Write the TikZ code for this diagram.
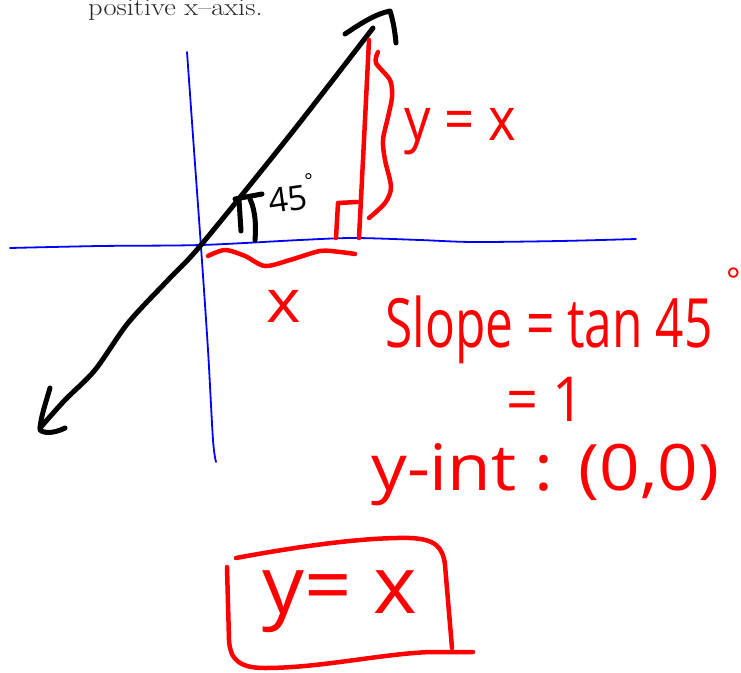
\documentclass[tikz,border=0pt]{standalone}
\usepackage{fontspec}
\newfontfamily\hand{Open Sans}
\begin{document}
\begin{tikzpicture}[x=1pt,y=-1pt,
  blueax/.style={draw=blue, line width=1.8pt, line cap=round},
  blk/.style={draw=black, line width=5pt, line cap=round, line join=round},
  redln/.style={draw=red, line width=4.5pt, line cap=round, line join=round},
  htext/.style={inner sep=0pt, anchor=base west},
  redtext/.style={htext, text=red}]
\useasboundingbox (0,0) rectangle (741,672);
% header text
\node[htext, text=black!85] (head) at (88,15) {\scalebox{1.14}[1]{\fontsize{25}{27}\selectfont positive x--axis.}};
% axes
\draw[blueax] plot[smooth] coordinates {(187,52) (194,150) (201,247) (208,350) (213,440) (216,462)};
\draw[blueax] plot[smooth] coordinates {(10,248) (100,246) (201,245) (300,240) (354,238) (420,240) (473,242) (560,241) (636,239)};
% black line y=x
\draw[blk] plot[smooth] coordinates {(40,428) (65,400) (95,370) (128,323) (168,280) (201,245) (290,135) (373,28)};
\draw[blk] (345,34) .. controls (360,24) and (375,14) .. (390,11) .. controls (393,20) and (395,32) .. (396,43);
\draw[blk] (50,388) .. controls (45,405) and (40,420) .. (40,430) .. controls (45,434) and (55,433) .. (65,428);
% angle mark
\draw[blk] (235,199) -- (262,194);
\draw[blk] (239,200) -- (241,231);
\draw[blk] (250,199) .. controls (256,212) and (256,228) .. (255,240);
\node[htext, rotate=8] (ang) at (270,214) {\hand\fontsize{34}{34}\selectfont 45\raisebox{20pt}{\fontsize{20}{20}\selectfont °}};
% red vertical and right angle
\draw[redln] plot[smooth] coordinates {(369,40) (364,140) (359,238)};
\draw[redln] (336,238) -- (338,203) -- (357,202);
% brace
\draw[redln] plot[smooth] coordinates {(378,52) (376,63) (390,80) (392,97) (388,117) (383,140) (385,160) (391,187) (385,203) (369,218)};
\node[redtext] (yx1) at (404,140) {\scalebox{0.88}[1]{\fontsize{60}{60}\selectfont\hand y = x}};
% wave under x
\draw[redln] plot[smooth] coordinates {(208,256) (225,250) (245,256) (265,266) (290,260) (320,251) (340,252) (355,254)};
\node[redtext] (xl) at (266,322) {\scalebox{1.1}[1]{\fontsize{60}{60}\selectfont\hand x}};
% slope
\node[redtext] (slope) at (385,347) {\scalebox{0.73}[1]{\fontsize{68}{68}\selectfont\hand Slope = tan 45}};
\node[redtext] (deg) at (726,292) {\fontsize{34}{34}\selectfont\hand °};
\node[redtext] (one) at (506,421) {\scalebox{0.9}[1]{\fontsize{62}{62}\selectfont\hand = 1}};
\node[redtext] (yint) at (371,490) {\scalebox{1.11}[1]{\fontsize{64}{64}\selectfont\hand y-int : (0,0)}};
% boxed answer
\node[redtext] (ans) at (262,613) {\scalebox{1.04}[1]{\fontsize{80}{80}\selectfont\hand y= x}};
\draw[redln] (236,558) .. controls (290,548) and (360,537) .. (410,538) .. controls (435,539) and (443,547) .. (445,565) -- (452,648);
\draw[redln] (473,652) -- (430,652) .. controls (380,654) and (320,668) .. (265,668) .. controls (240,668) and (230,660) .. (229,640) -- (227,567);
\end{tikzpicture}
\end{document}
